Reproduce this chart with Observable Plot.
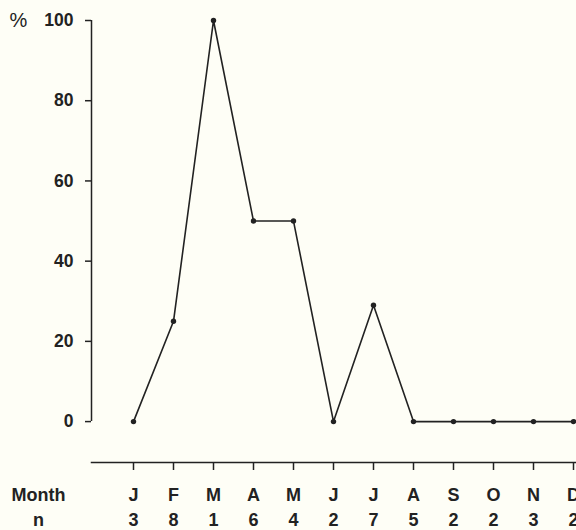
<!DOCTYPE html>
<html>
<head>
<meta charset="utf-8">
<script src="https://cdn.jsdelivr.net/npm/d3@7"></script>
<script src="https://cdn.jsdelivr.net/npm/@observablehq/plot@0.6"></script>
<style>
  html, body { margin: 0; padding: 0; background: #fefef6; overflow: hidden; }
  #chart svg { display: block; }
</style>
</head>
<body>
<div id="chart"></div>
<script>
const months = ["J","F","M","A","M","J","J","A","S","O","N","D"];
const nValues = [3, 8, 1, 6, 4, 2, 7, 5, 2, 2, 3, 2];
const percent = [0, 25, 100, 50, 50, 0, 29, 0, 0, 0, 0, 0];
const yTicks = [0, 20, 40, 60, 80, 100];

const data = months.map((m, i) => ({i, month: m, n: nValues[i], pct: percent[i]}));
const idx = data.map(d => d.i);

const xDomain = [-1.05, 11.075];
const yDomain = [-10.2, 100];
const font = "'Liberation Sans', Arial, Helvetica, sans-serif";
const ink = "#222";

const chart = Plot.plot({
  width: 576,
  height: 530,
  marginTop: 20,
  marginBottom: 68,
  marginLeft: 91,
  marginRight: 0,
  style: {background: "#fefef6", color: ink, fontFamily: font},
  x: {type: "linear", domain: xDomain, axis: null},
  y: {domain: yDomain, axis: null},
  marks: [
    // y axis
    Plot.ruleX([xDomain[0]], {y1: 0, y2: 100, stroke: ink, strokeWidth: 1.5}),
    Plot.axisY({ticks: yTicks, tickSize: 6, tickPadding: 12, fontSize: 17.5, fontWeight: "bold", stroke: ink, strokeWidth: 1.5, label: null, anchor: "left", style: "letter-spacing:0.5px"}),
    Plot.text(["%"], {frameAnchor: "top-left", dx: -73, dy: 0, fontSize: 20, fontWeight: "normal", fill: ink, textAnchor: "middle", lineAnchor: "middle"}),
    // x axis
    Plot.frame({anchor: "bottom", stroke: ink, strokeWidth: 1.5}),
    Plot.axisX({ticks: idx, tickSize: 8, tickFormat: () => "", stroke: ink, strokeWidth: 1.5, label: null, anchor: "bottom"}),
    Plot.text(data, {x: "i", text: "month", frameAnchor: "bottom", dy: 33, fontSize: 18, fontWeight: "bold", fill: ink, lineAnchor: "middle"}),
    Plot.text(data, {x: "i", text: d => String(d.n), frameAnchor: "bottom", dy: 58, fontSize: 18, fontWeight: "bold", fill: ink, lineAnchor: "middle"}),
    Plot.text(["Month"], {frameAnchor: "bottom-left", dx: -53, dy: 33, fontSize: 18, fontWeight: "bold", fill: ink, textAnchor: "middle", lineAnchor: "middle", style: "letter-spacing:1.5px"}),
    Plot.text(["n"], {frameAnchor: "bottom-left", dx: -53, dy: 58, fontSize: 18, fontWeight: "bold", fill: ink, textAnchor: "middle", lineAnchor: "middle"}),
    // data
    Plot.line(data, {x: "i", y: "pct", stroke: ink, strokeWidth: 1.6}),
    Plot.dot(data, {x: "i", y: "pct", r: 2.7, fill: ink, stroke: "none"})
  ]
});
document.getElementById("chart").appendChild(chart);
</script>
</body>
</html>
